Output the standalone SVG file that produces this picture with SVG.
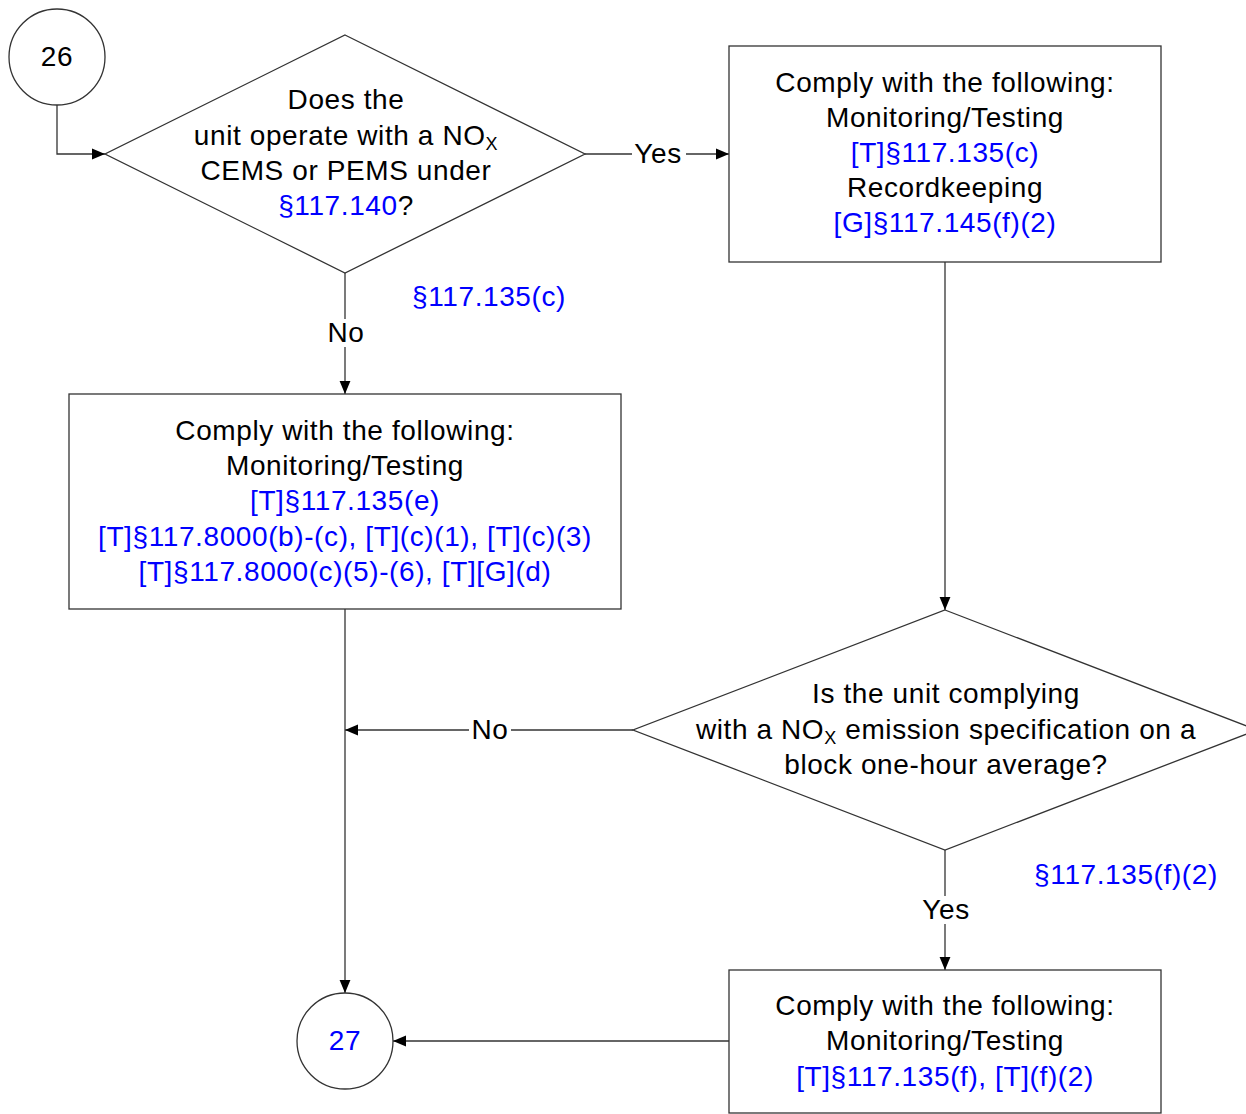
<svg xmlns="http://www.w3.org/2000/svg" width="1246" height="1114" viewBox="0 0 1246 1114">
<defs>
<marker id="arr" viewBox="0 0 12 12" refX="12" refY="6" markerWidth="13" markerHeight="13" markerUnits="userSpaceOnUse" orient="auto">
<path d="M0,1 L12,6 L0,11 Z" fill="#000"/>
</marker>
<style>
.sh{fill:#fff;stroke:#333;stroke-width:1.3}
.ln{fill:none;stroke:#333;stroke-width:1.3}
text{font-family:"Liberation Sans",Arial,sans-serif;font-size:28px;letter-spacing:0.6px;fill:#000;text-anchor:middle}
.b{fill:#0000ff}
.sub{font-size:18px}
.bg{fill:#fff}
</style>
</defs>
<rect width="1246" height="1114" fill="#fff"/>
<g id="connectors">
<path class="ln" d="M57,105 V154 H105" marker-end="url(#arr)"/>
<path class="ln" d="M585,154 H729" marker-end="url(#arr)"/>
<path class="ln" d="M345,273 V394" marker-end="url(#arr)"/>
<path class="ln" d="M945,262 V610" marker-end="url(#arr)"/>
<path class="ln" d="M633,730 H345" marker-end="url(#arr)"/>
<path class="ln" d="M345,609 V993" marker-end="url(#arr)"/>
<path class="ln" d="M945,850 V970" marker-end="url(#arr)"/>
<path class="ln" d="M729,1041 H393" marker-end="url(#arr)"/>
<rect class="bg" x="632" y="140" width="54" height="28"/>
<text x="658" y="163">Yes</text>
<rect class="bg" x="325" y="319" width="42" height="28"/>
<text x="346" y="342">No</text>
<rect class="bg" x="469" y="716" width="42" height="28"/>
<text x="490" y="739">No</text>
<rect class="bg" x="919" y="896" width="54" height="28"/>
<text x="946" y="919">Yes</text>
<text class="b" x="489" y="306">§117.135(c)</text>
<text class="b" x="1126" y="884">§117.135(f)(2)</text>
</g>
<g id="n26">
<circle class="sh" cx="57" cy="57" r="48"/>
<text x="57" y="66">26</text>
</g>
<g id="d1">
<polygon class="sh" points="345,35 585,154 345,273 105,154"/>
<text x="346" y="109">Does the</text>
<text x="346" y="145">unit operate with a NO<tspan class="sub" dy="5">X</tspan></text>
<text x="346" y="180">CEMS or PEMS under</text>
<text x="346" y="215"><tspan class="b">§117.140</tspan>?</text>
</g>
<g id="b1">
<rect class="sh" x="729" y="46" width="432" height="216"/>
<text x="945" y="92">Comply with the following:</text>
<text x="945" y="127">Monitoring/Testing</text>
<text class="b" x="945" y="162">[T]§117.135(c)</text>
<text x="945" y="197">Recordkeeping</text>
<text class="b" x="945" y="232">[G]§117.145(f)(2)</text>
</g>
<g id="b2">
<rect class="sh" x="69" y="394" width="552" height="215"/>
<text x="345" y="440">Comply with the following:</text>
<text x="345" y="475">Monitoring/Testing</text>
<text class="b" x="345" y="510">[T]§117.135(e)</text>
<text class="b" x="345" y="546">[T]§117.8000(b)-(c), [T](c)(1), [T](c)(3)</text>
<text class="b" x="345" y="581">[T]§117.8000(c)(5)-(6), [T][G](d)</text>
</g>
<g id="d2">
<polygon class="sh" points="945,610 1257,730 945,850 633,730"/>
<text x="946" y="703">Is the unit complying</text>
<text x="946" y="739">with a NO<tspan class="sub" dy="5">X</tspan><tspan dy="-5"> emission specification on a</tspan></text>
<text x="946" y="774">block one-hour average?</text>
</g>
<g id="b3">
<rect class="sh" x="729" y="970" width="432" height="143"/>
<text x="945" y="1015">Comply with the following:</text>
<text x="945" y="1050">Monitoring/Testing</text>
<text class="b" x="945" y="1086">[T]§117.135(f), [T](f)(2)</text>
</g>
<g id="n27">
<circle class="sh" cx="345" cy="1041" r="48"/>
<text class="b" x="345" y="1050">27</text>
</g>
</svg>
